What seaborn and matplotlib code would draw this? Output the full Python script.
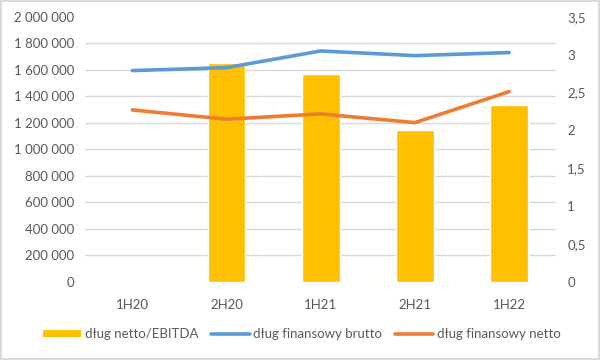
import pandas as pd
import numpy as np
import matplotlib
matplotlib.use("Agg")
import matplotlib.pyplot as plt
import seaborn as sns
from matplotlib.ticker import FuncFormatter, MultipleLocator
from matplotlib.patches import Patch
from matplotlib.lines import Line2D

# data
okresy = ["1H20", "2H20", "1H21", "2H21", "1H22"]
dlug_netto_ebitda = [np.nan, 2.89, 2.75, 2.00, 2.33]
dlug_brutto = [1595000, 1617000, 1743000, 1708000, 1731000]
dlug_netto = [1298000, 1228000, 1268000, 1202000, 1436000]

df = pd.DataFrame({"okres": okresy,
                   "ratio": dlug_netto_ebitda,
                   "brutto": dlug_brutto,
                   "netto": dlug_netto})

sns.set_style("white")
plt.rcParams['font.family'] = ['Lato', 'DejaVu Sans']

ZOLTY = "#FFC000"
NIEBIESKI = "#5B9BD5"
POMARANCZ = "#ED7D31"
SZARY = "#595959"
SIATKA = "#D9D9D9"

fig = plt.figure(figsize=(6, 3.6), dpi=100)
fig.patch.set_edgecolor(SIATKA)
fig.patch.set_linewidth(1.5)
ax = fig.add_axes([0.142, 0.217, 0.785, 0.736])
ax2 = ax.twinx()

# bars on the right axis, drawn below the lines
sns.barplot(data=df, x="okres", y="ratio", order=okresy, color=ZOLTY,
            width=0.4, saturation=1, ax=ax2, zorder=2)
ax2.set_ylim(0, 3.5)
ax2.yaxis.set_major_locator(MultipleLocator(0.5))
ax2.yaxis.set_major_formatter(FuncFormatter(lambda v, p: f"{v:g}".replace(".", ",")))
# gridlines follow the left axis (every 200 000), kept behind the bars
ax2.set_yticks(np.linspace(0, 3.5, 11), minor=True)
ax2.grid(axis="y", which="minor", color=SIATKA, linewidth=1, zorder=0)
ax2.grid(axis="y", which="major", visible=False)
ax2.tick_params(which="minor", length=0)
ax2.set_axisbelow(True)

sns.lineplot(data=df, x="okres", y="brutto", color=NIEBIESKI, linewidth=2.6,
             ax=ax, sort=False)
sns.lineplot(data=df, x="okres", y="netto", color=POMARANCZ, linewidth=2.6,
             ax=ax, sort=False)
ax.set_ylim(0, 2000000)
ax.yaxis.set_major_locator(MultipleLocator(200000))
ax.yaxis.set_major_formatter(FuncFormatter(lambda v, p: f"{int(v):,}".replace(",", " ")))
ax.set_zorder(ax2.get_zorder() + 1)
ax.patch.set_visible(False)
ax.grid(False)
ax.set_xlim(-0.5, 4.5)
ax2.set_xlim(-0.5, 4.5)

for a in (ax, ax2):
    a.set_xlabel("")
    a.set_ylabel("")
    for s in a.spines.values():
        s.set_visible(False)
    a.tick_params(length=0, labelsize=9.5, colors=SZARY, pad=8)
ax.tick_params(axis="x", pad=12)

uchwyty = [Patch(facecolor=ZOLTY, edgecolor="none"),
           Line2D([0], [0], color=NIEBIESKI, linewidth=2.6),
           Line2D([0], [0], color=POMARANCZ, linewidth=2.6)]
etykiety = ["dług netto/EBITDA", "dług finansowy brutto", "dług finansowy netto"]
fig.legend(uchwyty, etykiety, loc="center", bbox_to_anchor=(0.503, 0.072), ncol=3,
           frameon=False, fontsize=9.5, handlelength=2.9, handleheight=0.5,
           columnspacing=1.0, handletextpad=0.25, labelcolor=SZARY)

fig.savefig("out.png", dpi=100)
